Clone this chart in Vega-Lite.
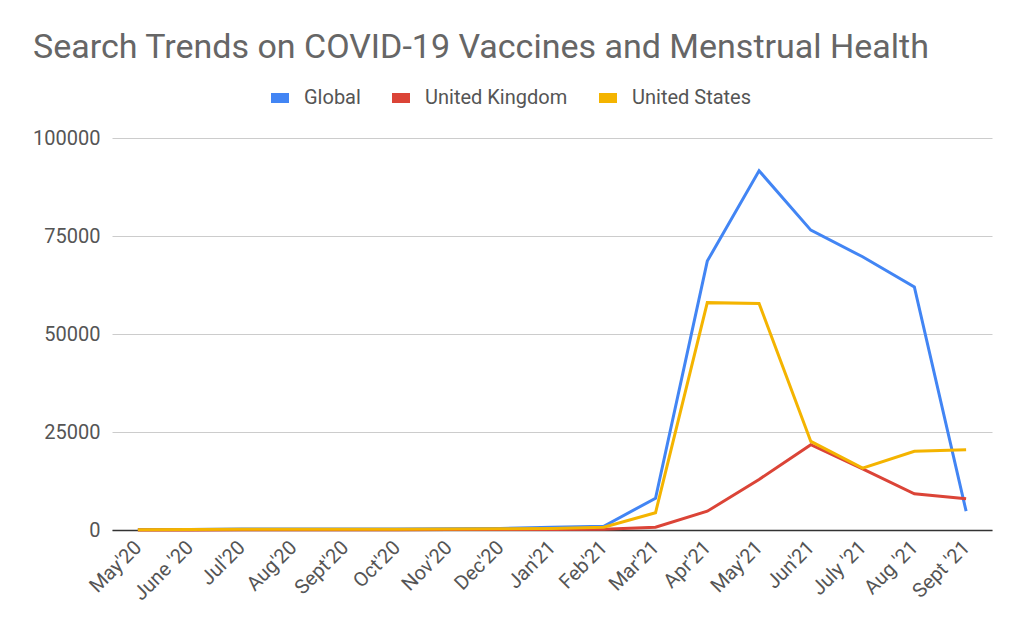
{
  "$schema": "https://vega.github.io/schema/vega-lite/v6.json",
  "width": 880,
  "height": 392,
  "autosize": "none",
  "padding": {"left": 112, "top": 138, "right": 32, "bottom": 103},
  "background": "white",
  "title": {
    "text": "Search Trends on COVID-19 Vaccines and Menstrual Health",
    "anchor": "start",
    "frame": "group",
    "dx": -79,
    "dy": -15,
    "fontSize": 34,
    "font": "Roboto",
    "fontWeight": "normal",
    "color": "#666666"
  },
  "data": {
    "values": [
      {"month": "May'20", "series": "Global", "searches": 100},
      {"month": "June '20", "series": "Global", "searches": 150},
      {"month": "Jul'20", "series": "Global", "searches": 250},
      {"month": "Aug'20", "series": "Global", "searches": 250},
      {"month": "Sept'20", "series": "Global", "searches": 250},
      {"month": "Oct'20", "series": "Global", "searches": 250},
      {"month": "Nov'20", "series": "Global", "searches": 300},
      {"month": "Dec'20", "series": "Global", "searches": 400},
      {"month": "Jan'21", "series": "Global", "searches": 700},
      {"month": "Feb'21", "series": "Global", "searches": 970},
      {"month": "Mar'21", "series": "Global", "searches": 8100},
      {"month": "Apr'21", "series": "Global", "searches": 68600},
      {"month": "May'21", "series": "Global", "searches": 91650},
      {"month": "Jun'21", "series": "Global", "searches": 76500},
      {"month": "July '21", "series": "Global", "searches": 69700},
      {"month": "Aug '21", "series": "Global", "searches": 62000},
      {"month": "Sept '21", "series": "Global", "searches": 4800},
      {"month": "May'20", "series": "United Kingdom", "searches": 0},
      {"month": "June '20", "series": "United Kingdom", "searches": 0},
      {"month": "Jul'20", "series": "United Kingdom", "searches": 50},
      {"month": "Aug'20", "series": "United Kingdom", "searches": 50},
      {"month": "Sept'20", "series": "United Kingdom", "searches": 50},
      {"month": "Oct'20", "series": "United Kingdom", "searches": 50},
      {"month": "Nov'20", "series": "United Kingdom", "searches": 100},
      {"month": "Dec'20", "series": "United Kingdom", "searches": 100},
      {"month": "Jan'21", "series": "United Kingdom", "searches": 150},
      {"month": "Feb'21", "series": "United Kingdom", "searches": 200},
      {"month": "Mar'21", "series": "United Kingdom", "searches": 700},
      {"month": "Apr'21", "series": "United Kingdom", "searches": 4800},
      {"month": "May'21", "series": "United Kingdom", "searches": 12900},
      {"month": "Jun'21", "series": "United Kingdom", "searches": 21750},
      {"month": "July '21", "series": "United Kingdom", "searches": 15600},
      {"month": "Aug '21", "series": "United Kingdom", "searches": 9250},
      {"month": "Sept '21", "series": "United Kingdom", "searches": 7950},
      {"month": "May'20", "series": "United States", "searches": 50},
      {"month": "June '20", "series": "United States", "searches": 100},
      {"month": "Jul'20", "series": "United States", "searches": 200},
      {"month": "Aug'20", "series": "United States", "searches": 200},
      {"month": "Sept'20", "series": "United States", "searches": 200},
      {"month": "Oct'20", "series": "United States", "searches": 200},
      {"month": "Nov'20", "series": "United States", "searches": 250},
      {"month": "Dec'20", "series": "United States", "searches": 300},
      {"month": "Jan'21", "series": "United States", "searches": 400},
      {"month": "Feb'21", "series": "United States", "searches": 700},
      {"month": "Mar'21", "series": "United States", "searches": 4400},
      {"month": "Apr'21", "series": "United States", "searches": 58000},
      {"month": "May'21", "series": "United States", "searches": 57800},
      {"month": "Jun'21", "series": "United States", "searches": 22600},
      {"month": "July '21", "series": "United States", "searches": 15800},
      {"month": "Aug '21", "series": "United States", "searches": 20100},
      {"month": "Sept '21", "series": "United States", "searches": 20500}
    ]
  },
  "mark": {"type": "line", "strokeWidth": 3},
  "encoding": {
    "x": {
      "field": "month",
      "type": "ordinal",
      "sort": null,
      "scale": {"type": "point", "padding": 0.5},
      "axis": {
        "title": null,
        "labelAngle": -45,
        "labelAlign": "right",
        "labelBaseline": "middle",
        "labelFontSize": 20,
        "labelFont": "Roboto",
        "labelColor": "#555555",
        "labelPadding": 14,
        "ticks": false,
        "domainColor": "#333333",
        "domainWidth": 1.5
      }
    },
    "y": {
      "field": "searches",
      "type": "quantitative",
      "scale": {"domain": [0, 100000]},
      "axis": {
        "title": null,
        "values": [0, 25000, 50000, 75000, 100000],
        "format": "d",
        "labelFontSize": 20,
        "labelFont": "Roboto",
        "labelColor": "#555555",
        "labelPadding": 12,
        "ticks": false,
        "domain": false,
        "gridColor": "#cccccc",
        "gridWidth": 1
      }
    },
    "color": {
      "field": "series",
      "type": "nominal",
      "scale": {
        "domain": ["Global", "United Kingdom", "United States"],
        "range": ["#4285F4", "#DB4437", "#F4B400"]
      },
      "legend": {
        "title": null,
        "orient": "none",
        "direction": "horizontal",
        "legendX": 154,
        "legendY": -54,
        "symbolType": "stroke",
        "symbolSize": 324,
        "symbolStrokeWidth": 10,
        "labelFontSize": 20,
        "labelFont": "Roboto",
        "labelColor": "#555555",
        "labelOffset": 10,
        "columnPadding": 11
      }
    }
  },
  "config": {
    "view": {"stroke": null}
  }
}
